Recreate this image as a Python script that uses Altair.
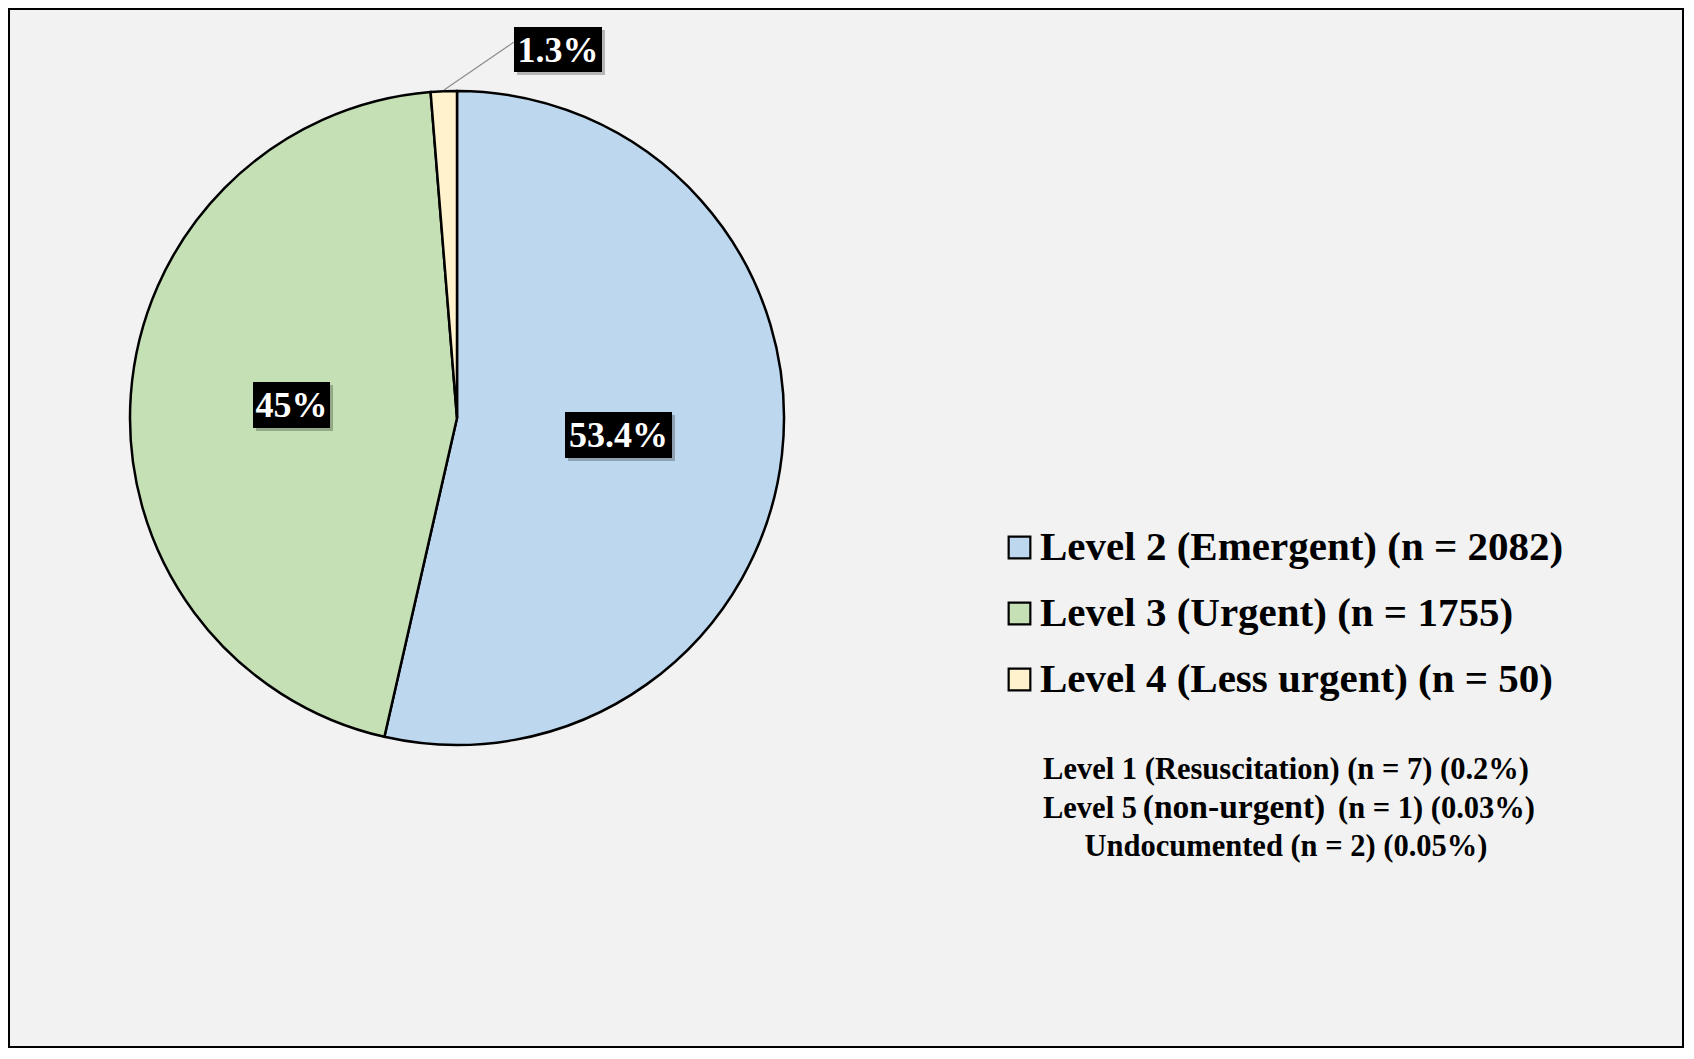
import altair as alt
import pandas as pd

# ---- data ----
levels = ["Level 2 (Emergent) (n = 2082)", "Level 3 (Urgent) (n = 1755)", "Level 4 (Less urgent) (n = 50)"]
counts = [2082, 1755, 50]
pct_labels = ["53.4%", "45%", "1.3%"]
colors = ["#bdd7ee", "#c5e0b4", "#fff2cc"]
notes = ["Level 1 (Resuscitation) (n = 7) (0.2%)", "Level 5 (non-urgent) (n = 1) (0.03%)", "Undocumented (n = 2) (0.05%)"]

W, H = 1676, 1040
CX, CY, R = 449, 410, 327
FONT = "Liberation Serif"

pie_df = pd.DataFrame({"level": levels, "n": counts, "order": list(range(len(levels)))})

base = alt.Chart(pie_df)

# soft shadow rings
shadow_layers = []
for extra, op in [(10, 0.035), (7, 0.045), (4, 0.06)]:
    shadow_layers.append(
        alt.Chart(pd.DataFrame({"v": [1]})).mark_arc(
            outerRadius=R + extra, color="#000000", opacity=op
        ).encode(theta=alt.Theta("v:Q"), x=alt.value(CX + 3), y=alt.value(CY + 5))
    )

pie = base.mark_arc(outerRadius=R, stroke="black", strokeWidth=2.5).encode(
    theta=alt.Theta("n:Q", stack=True),
    order=alt.Order("order:Q"),
    x=alt.value(CX),
    y=alt.value(CY),
    color=alt.Color(
        "level:N",
        scale=alt.Scale(domain=levels, range=colors),
        sort=levels,
        legend=alt.Legend(
            title=None,
            orient="none",
            legendX=991,
            legendY=519,
            symbolType="square",
            symbolSize=470,
            symbolStrokeColor="black",
            symbolStrokeWidth=2.2,
            symbolOpacity=1,
            labelFont=FONT,
            labelFontWeight="bold",
            labelFontSize=41,
            labelColor="black",
            labelOffset=0,
            labelLimit=1000,
            rowPadding=24,
            padding=0,
        ),
    ),
)

# data-label annotations (layout kept separate from data)
box_layout = [  # x1, x2, y1, y2 in pixels
    (557, 664, 404, 450),
    (245, 322, 374, 420),
    (506, 594, 19, 64),
]
ann_rows = []
for lab, (x1, x2, y1, y2) in zip(pct_labels, box_layout):
    ann_rows.append({"label": lab, "x1": x1, "x2": x2, "y1": y1, "y2": y2,
                     "xc": (x1 + x2) / 2, "yc": (y1 + y2) / 2})
ann = pd.DataFrame(ann_rows)

px = alt.Scale(domain=[0, W], range=[0, W])
py = alt.Scale(domain=[0, H], range=[0, H])

leader = alt.Chart(pd.DataFrame({"x": [436, 506], "y": [82, 34]})).mark_line(
    color="#8c8c8c", strokeWidth=1.2
).encode(x=alt.X("x:Q", scale=px, axis=None), y=alt.Y("y:Q", scale=py, axis=None))

box_shadow = alt.Chart(ann).mark_rect(color="#000000", opacity=0.25).encode(
    x=alt.X("sx1:Q", scale=px, axis=None), x2="sx2:Q",
    y=alt.Y("sy1:Q", scale=py, axis=None), y2="sy2:Q",
).transform_calculate(sx1="datum.x1 + 3", sx2="datum.x2 + 3", sy1="datum.y1 + 3", sy2="datum.y2 + 3")

boxes = alt.Chart(ann).mark_rect(color="#000000").encode(
    x=alt.X("x1:Q", scale=px, axis=None), x2="x2:Q",
    y=alt.Y("y1:Q", scale=py, axis=None), y2="y2:Q",
)

box_text = alt.Chart(ann).mark_text(
    font=FONT, fontWeight="bold", fontSize=36, color="white", align="center", baseline="middle", dy=1
).encode(
    x=alt.X("xc:Q", scale=px, axis=None),
    y=alt.Y("yc:Q", scale=py, axis=None),
    text="label:N",
)

# footnote lines
NOTE_FS = 30.5
note_df = pd.DataFrame({"t": [notes[0], notes[2]], "yy": [762, 839]})
note_text = alt.Chart(note_df).mark_text(
    font=FONT, fontWeight="bold", fontSize=NOTE_FS, color="black", align="center", baseline="middle"
).encode(x=alt.value(1278), y=alt.Y("yy:Q", scale=py, axis=None), text="t:N")

# line 2 with the larger "(non-urgent)" segment
n2a, n2b, n2c = "Level 5", "(non-urgent)", "(n = 1) (0.03%)"
note2a = alt.Chart(pd.DataFrame({"t": [n2a]})).mark_text(
    font=FONT, fontWeight="bold", fontSize=NOTE_FS, align="right", baseline="middle"
).encode(x=alt.value(1129), y=alt.value(801), text="t:N")
note2b = alt.Chart(pd.DataFrame({"t": [n2b]})).mark_text(
    font=FONT, fontWeight="bold", fontSize=33.5, align="center", baseline="middle"
).encode(x=alt.value(1226), y=alt.value(800), text="t:N")
note2c = alt.Chart(pd.DataFrame({"t": [n2c]})).mark_text(
    font=FONT, fontWeight="bold", fontSize=NOTE_FS, align="left", baseline="middle"
).encode(x=alt.value(1330), y=alt.value(801), text="t:N")

chart = alt.layer(
    *shadow_layers, pie, leader, box_shadow, boxes, box_text, note_text, note2a, note2b, note2c
).properties(
    width=W, height=H, padding=0, autosize=alt.AutoSizeParams(type="none"),
    background="#f2f2f2",
).configure_view(
    fill="#f2f2f2", stroke="black", strokeWidth=4
)

chart.save("out.html", embed_options={"renderer": "svg", "actions": False})
